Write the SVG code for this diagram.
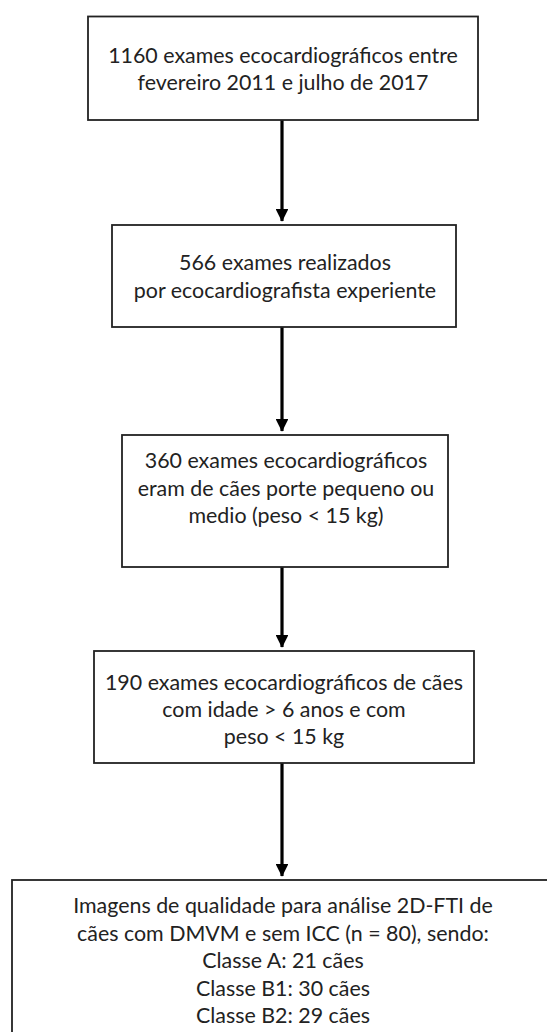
<svg xmlns="http://www.w3.org/2000/svg" width="547" height="1032" viewBox="0 0 547 1032">
<defs>
<style>
.box{fill:#ffffff;stroke:#222222;stroke-width:1.8}
.t{font-family:Lato,"Open Sans","Liberation Sans",sans-serif;font-size:21.4px;fill:#222222;text-anchor:middle}
.c{stroke:#000000;stroke-width:3.2;fill:none}
</style>
<marker id="ah" markerWidth="4" markerHeight="4" refX="3.8" refY="2" orient="auto" markerUnits="strokeWidth">
<path d="M0,0 L4,2 L0,4 Z" fill="#000000"/>
</marker>
</defs>
<rect width="547" height="1032" fill="#ffffff"/>
<g id="connectors">
<line class="c" x1="282" y1="120" x2="282" y2="221" marker-end="url(#ah)"/>
<line class="c" x1="282" y1="327" x2="282" y2="431" marker-end="url(#ah)"/>
<line class="c" x1="282" y1="567" x2="282" y2="647" marker-end="url(#ah)"/>
<line class="c" x1="282" y1="763" x2="282" y2="876" marker-end="url(#ah)"/>
</g>
<g id="n1">
<rect class="box" x="88" y="16.5" width="390" height="103.5"/>
<text class="t" x="283" y="63">1160 exames ecocardiográficos entre</text>
<text class="t" x="283" y="90">fevereiro 2011 e julho de 2017</text>
</g>
<g id="n2">
<rect class="box" x="112" y="225" width="344" height="102"/>
<text class="t" x="285" y="270">566 exames realizados</text>
<text class="t" x="285" y="298">por ecocardiografista experiente</text>
</g>
<g id="n3">
<rect class="box" x="122" y="435" width="326" height="132"/>
<text class="t" x="286" y="468">360 exames ecocardiográficos</text>
<text class="t" x="286" y="496">eram de cães porte pequeno ou</text>
<text class="t" x="286" y="523">medio (peso &lt; 15 kg)</text>
</g>
<g id="n4">
<rect class="box" x="94" y="651" width="380" height="112"/>
<text class="t" x="284" y="690">190 exames ecocardiográficos de cães</text>
<text class="t" x="284" y="717">com idade &gt; 6 anos e com</text>
<text class="t" x="284" y="744">peso &lt; 15 kg</text>
</g>
<g id="n5">
<rect class="box" x="12" y="880" width="545" height="160"/>
<text class="t" x="283" y="913">Imagens de qualidade para análise 2D-FTI de</text>
<text class="t" x="283" y="941">cães com DMVM e sem ICC (n = 80), sendo:</text>
<text class="t" x="283" y="968">Classe A: 21 cães</text>
<text class="t" x="283" y="996">Classe B1: 30 cães</text>
<text class="t" x="283" y="1023">Classe B2: 29 cães</text>
</g>
</svg>
